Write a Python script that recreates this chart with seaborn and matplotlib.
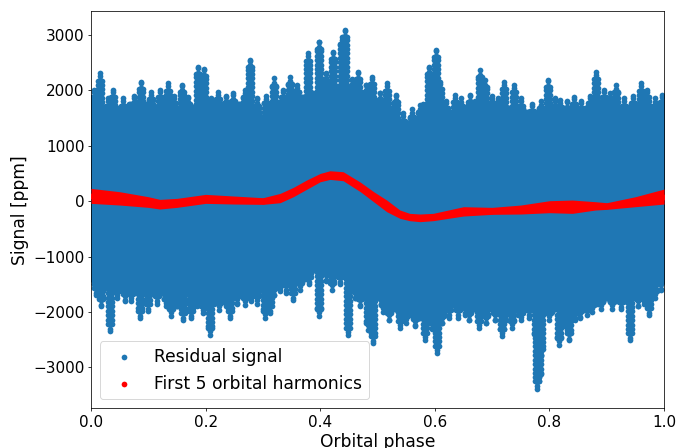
import numpy as np
import pandas as pd
import matplotlib
matplotlib.use("Agg")
import matplotlib.pyplot as plt
import seaborn as sns

# Dense residual band: top and bottom of the solid cloud every 0.01 in phase (ppm)
core_phase = np.round(np.arange(101) * 0.01, 2)
core_upper = [1800, 1750, 1700, 1720, 1650, 1680, 1650, 1750, 1780, 1720,
              1750, 1700, 1720, 1760, 1700, 1650, 1680, 1620, 1700, 1750,
              1720, 1800, 1760, 1700, 1720, 1680, 1750, 1700, 1650, 1600,
              1520, 1550, 1650, 1750, 1800, 1850, 1800, 1880, 1900, 1950,
              1980, 2050, 2100, 2050, 2100, 2000, 1950, 1900, 1850, 1800,
              1780, 1720, 1680, 1500, 1400, 1380, 1420, 1500, 1550, 1600,
              1580, 1550, 1600, 1580, 1620, 1600, 1650, 1700, 1720, 1700,
              1680, 1650, 1700, 1680, 1720, 1650, 1600, 1550, 1580, 1620,
              1600, 1650, 1600, 1620, 1680, 1650, 1600, 1700, 1800, 1760,
              1800, 1750, 1700, 1650, 1700, 1720, 1680, 1650, 1700, 1750,
              1720]
core_lower = [-1400, -1500, -1550, -1500, -1450, -1480, -1550, -1500, -1600, -1550,
              -1620, -1580, -1650, -1600, -1680, -1650, -1700, -1650, -1680, -1620,
              -1650, -1700, -1650, -1720, -1680, -1650, -1600, -1650, -1580, -1620,
              -1550, -1500, -1450, -1480, -1520, -1500, -1450, -1400, -1300, -1250,
              -1200, -1180, -1200, -1250, -1300, -1400, -1500, -1550, -1600, -1650,
              -1750, -1850, -1900, -1950, -2000, -2050, -2000, -2100, -2050, -2000,
              -2050, -1950, -1900, -1850, -1900, -1850, -1900, -1950, -2000, -1950,
              -1900, -1950, -1900, -1850, -1900, -1850, -1900, -1950, -1900, -1950,
              -2000, -1950, -2050, -2000, -1950, -1850, -1900, -1800, -1850, -1800,
              -1750, -1800, -1750, -1800, -1750, -1700, -1650, -1700, -1600, -1500,
              -1450]

# Excursions above and below the dense band (phase, extreme value in ppm)
spike_up_phase = [0.005, 0.016, 0.030, 0.038, 0.055, 0.075, 0.088, 0.105, 0.120, 0.134,
                  0.145, 0.158, 0.170, 0.187, 0.197, 0.210, 0.222, 0.235, 0.248, 0.268,
                  0.278, 0.290, 0.305, 0.320, 0.335, 0.347, 0.360, 0.379, 0.397, 0.410,
                  0.423, 0.438, 0.444, 0.455, 0.466, 0.480, 0.490, 0.505, 0.516, 0.532,
                  0.545, 0.560, 0.574, 0.580, 0.589, 0.602, 0.609, 0.620, 0.635, 0.645,
                  0.662, 0.670, 0.679, 0.688, 0.700, 0.710, 0.720, 0.738, 0.750, 0.770,
                  0.785, 0.797, 0.810, 0.818, 0.830, 0.843, 0.855, 0.870, 0.881, 0.895,
                  0.905, 0.917, 0.930, 0.945, 0.960, 0.970, 0.985, 0.996]
spike_up_value = [2000, 2300, 1850, 2000, 1850, 1900, 2150, 1970, 2000, 2120,
                  1900, 2090, 1880, 2420, 2380, 1850, 1970, 1900, 1940, 2000,
                  2540, 1850, 1900, 2210, 2000, 2240, 2100, 2660, 2870, 2300,
                  2690, 2960, 3090, 2200, 2330, 2100, 2240, 1950, 2120, 1910,
                  1580, 1650, 1730, 1750, 2420, 2720, 2150, 1800, 1910, 1850,
                  1910, 1800, 2360, 2180, 1900, 1850, 2150, 2090, 1850, 1750,
                  1800, 2190, 1850, 1820, 1800, 1880, 1800, 1900, 2330, 2000,
                  1950, 2090, 1850, 1900, 2120, 2000, 1850, 1910]
spike_down_phase = [0.008, 0.018, 0.033, 0.045, 0.059, 0.070, 0.085, 0.100, 0.115, 0.130,
                    0.140, 0.150, 0.160, 0.175, 0.185, 0.195, 0.207, 0.215, 0.224, 0.235,
                    0.242, 0.255, 0.268, 0.280, 0.290, 0.303, 0.312, 0.320, 0.329, 0.340,
                    0.353, 0.365, 0.380, 0.397, 0.410, 0.420, 0.435, 0.449, 0.460, 0.470,
                    0.484, 0.492, 0.510, 0.520, 0.539, 0.550, 0.565, 0.583, 0.595, 0.604,
                    0.612, 0.625, 0.640, 0.652, 0.660, 0.677, 0.690, 0.705, 0.717, 0.725,
                    0.735, 0.745, 0.751, 0.765, 0.776, 0.778, 0.781, 0.785, 0.800, 0.816,
                    0.825, 0.834, 0.845, 0.853, 0.865, 0.875, 0.890, 0.910, 0.925, 0.941,
                    0.955, 0.965, 0.973, 0.985, 0.994]
spike_down_value = [-1700, -1900, -2350, -1750, -1810, -1800, -2110, -1990, -1850, -1900,
                    -2080, -1900, -2140, -2110, -1900, -2020, -2410, -1850, -1960, -1900,
                    -2110, -1850, -1870, -1800, -1850, -2110, -2020, -1700, -1630, -1650,
                    -1780, -1600, -1500, -2080, -1450, -1600, -1500, -2410, -1750, -1900,
                    -2320, -2560, -2000, -2150, -2290, -2200, -2250, -2500, -2300, -2740,
                    -2200, -2100, -2100, -2050, -2150, -2290, -2200, -2150, -2440, -2150,
                    -2290, -2050, -2140, -2100, -2530, -3380, -3250, -2800, -2150, -2590,
                    -2250, -2500, -2150, -2110, -2050, -2000, -1950, -1950, -1950, -2500,
                    -1900, -1850, -2050, -1750, -1600]

# Harmonic model band: upper and lower extent (ppm)
harm_phase = [0.00, 0.05, 0.10, 0.12, 0.15, 0.20, 0.25, 0.30, 0.33, 0.353,
              0.376, 0.40, 0.417, 0.44, 0.47, 0.493, 0.516, 0.539, 0.556, 0.574,
              0.597, 0.65, 0.70, 0.75, 0.80, 0.84, 0.88, 0.90, 0.95, 1.00]
harm_top = [228, 168, 78, 30, 48, 120, 90, 60, 138, 246,
            378, 498, 546, 528, 340, 170, 18, -162, -222, -234,
            -222, -102, -114, -72, 6, 18, -12, -30, 78, 216]
harm_bottom = [-42, -72, -114, -144, -114, -42, -54, -60, -30, 78,
               210, 348, 390, 366, 168, -12, -192, -312, -354, -372,
               -354, -270, -240, -234, -210, -222, -162, -150, -102, -54]


def column(phase, start, stop, step):
    levels = np.append(np.arange(start, stop, step), stop)
    return np.full(levels.size, phase), levels


# Expand the band and the excursions into individual residual points
xs, ys = [], []
for p, lo, hi in zip(core_phase, core_lower, core_upper):
    for dx in np.arange(-0.004, 0.00401, 0.002):
        cx, cy = column(p + dx, lo, hi, 60.0)
        xs.append(cx)
        ys.append(cy)
for phases, values, core, sign in ((spike_up_phase, spike_up_value, core_upper, 1),
                                   (spike_down_phase, spike_down_value, core_lower, -1)):
    for p, v in zip(phases, values):
        base = core[int(round(p * 100))]
        for dx, drop in ((-0.0035, 130), (0.0, 0), (0.0035, 130)):
            top = v - sign * drop
            if sign * (top - base) <= 0:
                continue
            cx, cy = column(p + dx, base, top, sign * 80.0)
            xs.append(cx)
            ys.append(cy)
residual = pd.DataFrame({"phase": np.concatenate(xs), "signal": np.concatenate(ys)})

harm = pd.DataFrame({"phase": harm_phase, "top": harm_top, "bottom": harm_bottom})
harm["mid"] = (harm["top"] + harm["bottom"]) / 2

fig = plt.figure(figsize=(10, 448 / 68.6), dpi=68.6)
ax = fig.add_axes([0.1327, 0.0893, 0.8353, 0.8855])

sns.scatterplot(data=residual, x="phase", y="signal", ax=ax, color="#1f77b4",
                s=36, linewidth=0, label="Residual signal", zorder=2)
ax.fill_between(harm["phase"], harm["bottom"], harm["top"], color="red",
                linewidth=0, zorder=3)
sns.scatterplot(data=harm, x="phase", y="mid", ax=ax, color="red", s=36,
                linewidth=0, label="First 5 orbital harmonics", zorder=4)

ax.set_xlim(0, 1)
ax.set_ylim(-3730, 3420)
ax.set_xticks([0.0, 0.2, 0.4, 0.6, 0.8, 1.0])
ax.set_yticks([-3000, -2000, -1000, 0, 1000, 2000, 3000])
ax.set_xlabel("Orbital phase", fontsize=18)
ax.set_ylabel("Signal [ppm]", fontsize=18)
ax.tick_params(labelsize=16)
ax.legend(loc="lower left", fontsize=18)

fig.savefig("out.png", dpi=68.6)
